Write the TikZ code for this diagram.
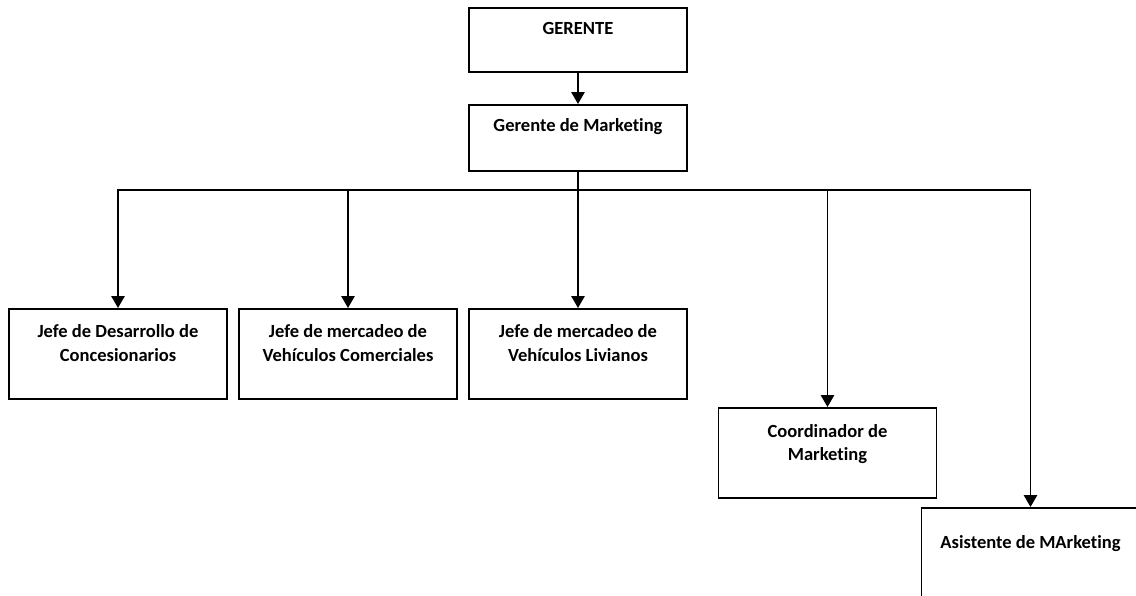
\documentclass[tikz,border=0pt]{standalone}
\usepackage{fontspec}
\setmainfont[Ligatures=NoCommon]{Carlito}
\usetikzlibrary{arrows.meta, positioning}

\begin{document}
\begin{tikzpicture}[x=0.75pt, y=-0.75pt, line width=1.4pt,
  cargo/.style={draw, minimum width=163.5pt, minimum height=67.5pt, inner sep=0pt, anchor=north},
  rotulo/.style={anchor=north, inner sep=0pt, align=center, font=\fontsize{13.9}{17.5}\selectfont\bfseries},
  flecha/.style={-{Triangle[width=10pt,length=9pt]}}]
\path[use as bounding box, clip] (0,0) rectangle (1136,596);

% Cargos
\node[cargo, minimum height=48pt] (gerente) at (578,7) {};
\node[cargo, minimum height=49.5pt] (gmkt) at (578,104) {};
\node[cargo] (jdesarrollo) at (118,308) {};
\node[cargo] (jcomerciales) at (348,308) {};
\node[cargo] (jlivianos) at (578,308) {};
\node[cargo] (coord) at (827.5,407) {};
\node[cargo] (asist) at (1030.5,507) {};

% Textos
\node[rotulo] (tgerente) at ([yshift=-11pt]gerente.north) {GERENTE};
\node[rotulo] (tgmkt) at ([yshift=-10.5pt]gmkt.north) {Gerente de Marketing};
\node[rotulo] (tjdesarrollo) at ([yshift=-12pt]jdesarrollo.north) {Jefe de Desarrollo de\\Concesionarios};
\node[rotulo] (tjcomerciales) at ([yshift=-12pt]jcomerciales.north) {Jefe de mercadeo de\\Vehículos Comerciales};
\node[rotulo] (tjlivianos) at ([yshift=-12pt]jlivianos.north) {Jefe de mercadeo de\\Vehículos Livianos};
\node[rotulo] (tcoord) at ([yshift=-12.5pt]coord.north) {Coordinador de\\Marketing};
\node[rotulo] (tasist) at ([yshift=-20.5pt]asist.north) {Asistente de MArketing};

% Conexiones
\coordinate (bus) at (578,190);
\draw[flecha] (gerente) -- (gmkt);
\draw (gmkt.south) -- (bus);
\draw[{Triangle[width=10pt,length=9pt]}-{Triangle[width=10pt,length=9pt]}] (jdesarrollo.north) |- (bus) -| (asist.north);
\foreach \n in {jcomerciales, jlivianos, coord}
  \draw[flecha] (bus -| \n.north) -- (\n.north);
\end{tikzpicture}
\end{document}
